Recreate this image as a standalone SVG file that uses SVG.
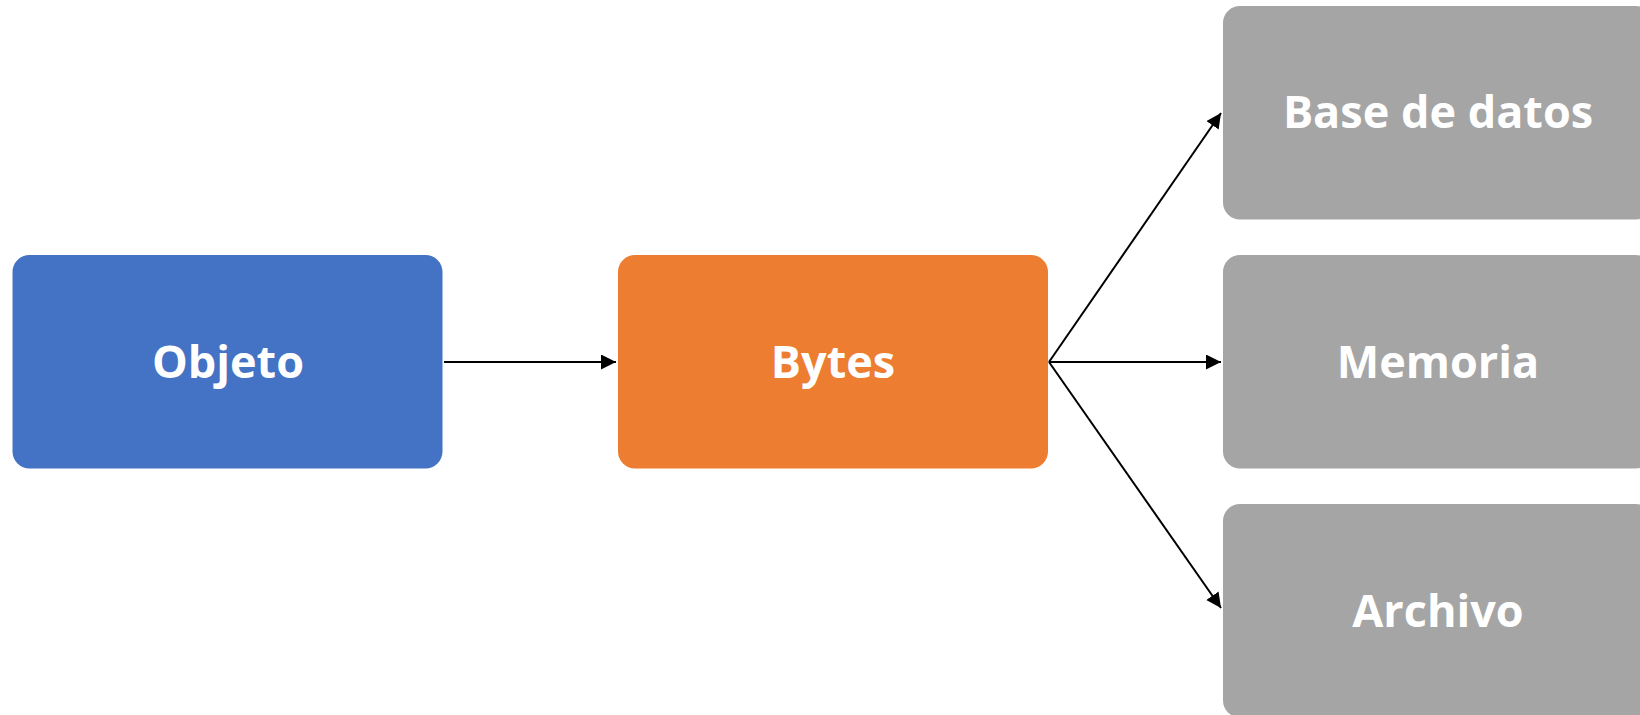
<svg xmlns="http://www.w3.org/2000/svg" width="1640" height="715" viewBox="0 0 1640 715">
  <style>
    .lbl { font-family: "Open Sans", "Noto Sans", "Liberation Sans", sans-serif; font-weight: 700; font-size: 45px; fill: #ffffff; text-anchor: middle; }
    .conn { stroke: #000000; stroke-width: 2; fill: none; marker-end: url(#arrow); }
  </style>
  <defs>
    <marker id="arrow" markerUnits="userSpaceOnUse" markerWidth="16" markerHeight="16" refX="15" refY="7.5" orient="auto">
      <path d="M0,0 L15,7.5 L0,15 z" fill="#000000"/>
    </marker>
  </defs>
  <rect x="0" y="0" width="1640" height="715" fill="#ffffff"/>
  <g id="connectors">
    <line class="conn" x1="444" y1="362" x2="616" y2="362"/>
    <line class="conn" x1="1049" y1="362" x2="1221" y2="113"/>
    <line class="conn" x1="1049" y1="362" x2="1221" y2="362"/>
    <line class="conn" x1="1049" y1="362" x2="1221" y2="608"/>
  </g>
  <g id="objeto">
    <rect x="12.5" y="255" width="430" height="213.5" rx="17" fill="#4472C4"/>
    <text class="lbl" x="228" y="378">Objeto</text>
  </g>
  <g id="bytes">
    <rect x="618" y="255" width="430" height="213.5" rx="17" fill="#ED7D31"/>
    <text class="lbl" x="833" y="378">Bytes</text>
  </g>
  <g id="base-de-datos">
    <rect x="1223" y="6" width="430" height="213.5" rx="17" fill="#A5A5A5"/>
    <text class="lbl" x="1438" y="128">Base de datos</text>
  </g>
  <g id="memoria">
    <rect x="1223" y="255" width="430" height="213.5" rx="17" fill="#A5A5A5"/>
    <text class="lbl" x="1438" y="378">Memoria</text>
  </g>
  <g id="archivo">
    <rect x="1223" y="504" width="430" height="213.5" rx="17" fill="#A5A5A5"/>
    <text class="lbl" x="1438" y="627">Archivo</text>
  </g>
</svg>
